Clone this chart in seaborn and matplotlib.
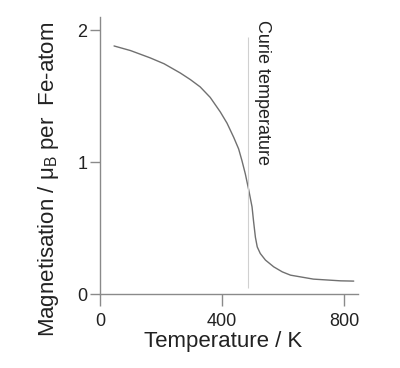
import matplotlib
matplotlib.use("Agg")
import matplotlib.pyplot as plt
import seaborn as sns
import pandas as pd

# Magnetisation of iron vs temperature
temperature = [46, 100, 164, 210, 263, 296, 328, 361, 394, 416, 438, 454, 465, 476,
               487, 498, 503, 509, 515, 525, 542, 569, 597, 624, 699, 788, 831]
magnetisation = [1.88, 1.845, 1.79, 1.745, 1.675, 1.625, 1.57, 1.49, 1.38, 1.295, 1.187, 1.10, 1.01, 0.91,
                 0.79, 0.66, 0.55, 0.43, 0.357, 0.307, 0.257, 0.206, 0.168, 0.143, 0.113, 0.10, 0.098]
curie_T = 484
x_ticks = [0, 400, 800]
y_ticks = [0, 1, 2]

sns.set_style("ticks")
plt.rcParams["font.family"] = ["Liberation Sans", "DejaVu Sans"]
plt.rcParams["mathtext.fontset"] = "custom"
plt.rcParams["mathtext.rm"] = "Liberation Sans"

df = pd.DataFrame({"T": temperature, "M": magnetisation})

fig = plt.figure(figsize=(4, 3.68), dpi=100)
ax = fig.add_axes([0.25, 0.201, 0.645, 0.753])

sns.lineplot(data=df, x="T", y="M", ax=ax, color="#707070", linewidth=1.0)
ax.vlines(curie_T, 0.045, 1.95, color="#d0d0d0", linewidth=0.8)
ax.text(532, 2.08, "Curie temperature", rotation=-90, ha="center", va="top",
        fontsize=13, color="#222222")

ax.set_xlim(0, 845)
ax.set_ylim(0, 2.1)
ax.set_xticks(x_ticks)
ax.set_yticks(y_ticks)
ax.set_xticklabels([str(t) for t in x_ticks])
ax.set_yticklabels([str(t) for t in y_ticks])

sns.despine(ax=ax)
for side in ["left", "bottom"]:
    ax.spines[side].set_color("#8a8a8a")
    ax.spines[side].set_linewidth(1.0)
ax.tick_params(axis="x", length=8.5, width=1.0, color="#8a8a8a", pad=5,
               labelsize=13, labelcolor="#222222")
ax.tick_params(axis="y", length=7, width=1.0, color="#8a8a8a", pad=2,
               labelsize=13, labelcolor="#222222")

ax.set_xlabel("Temperature / K", fontsize=16, color="#222222")
ax.set_ylabel("Magnetisation / μ$_\\mathrm{B}$ per  Fe-atom", fontsize=16, color="#222222")
ax.xaxis.set_label_coords(0.477, -0.135)
ax.yaxis.set_label_coords(-0.15, 0.415)

plt.savefig("out.png", dpi=100)
plt.close()
